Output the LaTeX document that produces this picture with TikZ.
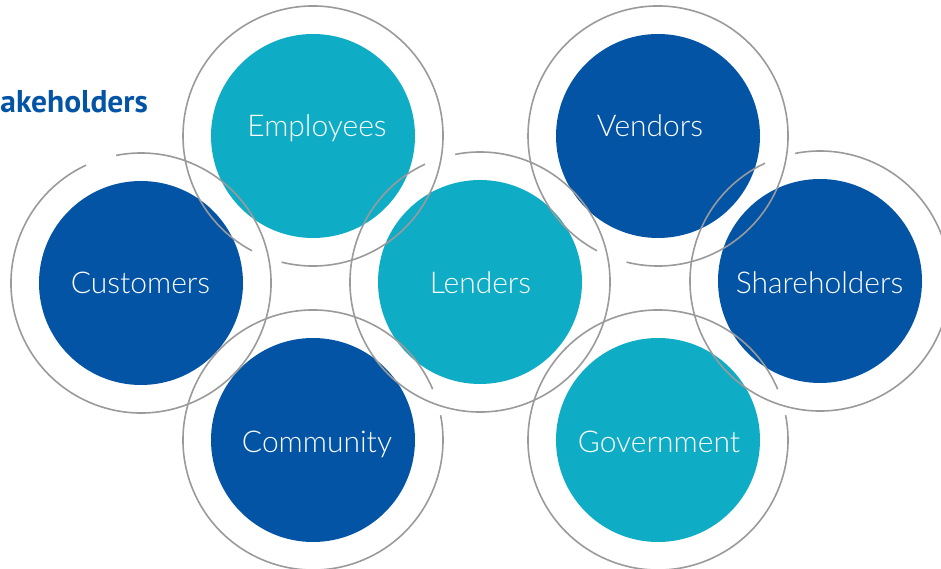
\documentclass[tikz,border=0pt]{standalone}
\usepackage{fontspec}
\setmainfont{PT Sans}
\newfontfamily\lblfont{Lato Light}
\definecolor{darkblue}{HTML}{0354A5}
\definecolor{tealblue}{HTML}{0FACC5}
\definecolor{ringgray}{HTML}{9A9A9C}
\begin{document}
\begin{tikzpicture}[x=1pt,y=1pt,
  stake/.style={circle, minimum size=204pt, inner sep=0pt},
  dk/.style={stake, fill=darkblue},
  lt/.style={stake, fill=tealblue},
  lbl/.style={anchor=base, inner sep=0pt, text=white, font=\lblfont\fontsize{30}{34}\selectfont},
  ring/.style={draw=ringgray, line width=1.6pt}]
\useasboundingbox (0,0) rectangle (941,569);
% filled circles
\node[lt] (emp) at (313,433) {};
\node[dk] (ven) at (658,433) {};
\node[dk] (cus) at (141,286) {};
\node[lt] (len) at (480,287) {};
\node[dk] (sha) at (820,288) {};
\node[dk] (com) at (313,129) {};
\node[lt] (gov) at (658,129) {};
% labels
\node[lbl] (empt) at (317,432) {Employees};
\node[lbl] (vent) at (650,432) {Vendors};
\node[lbl] (cust) at (140.5,275) {Customers};
\node[lbl] (lent) at (480.5,275) {Lenders};
\node[lbl] (shat) at (819.5,275) {Shareholders};
\node[lbl] (comt) at (317,116) {Community};
\node[lbl] (govt) at (659,116) {Government};
% rings with gaps
\foreach \c in {emp,ven}
  \draw[ring] ([shift={(256:130)}]\c.center) arc[start angle=256, end angle=602, radius=130];
\foreach \c in {cus,len,sha}
  \draw[ring] ([shift={(115:130)}]\c.center) arc[start angle=115, end angle=461, radius=130];
\foreach \c in {com,gov}
  \draw[ring] ([shift={(23:130)}]\c.center) arc[start angle=23, end angle=371, radius=130];
% title
\node[anchor=base east, inner sep=0pt, text=darkblue, font=\bfseries\fontsize{31.5}{36}\selectfont] (title) at (148,456) {akeholders};
\end{tikzpicture}
\end{document}
